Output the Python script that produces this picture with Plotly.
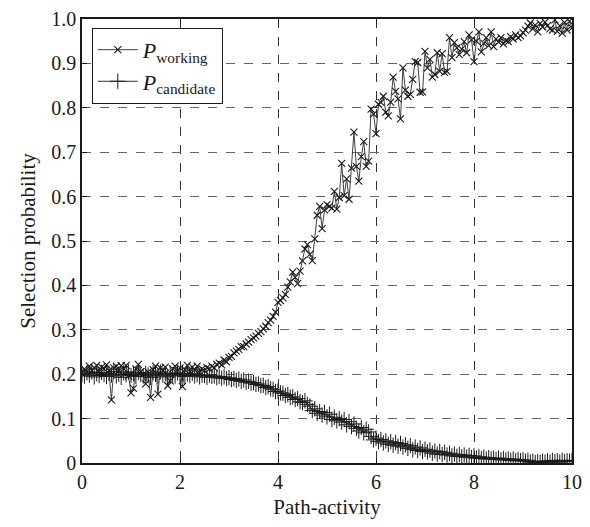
import plotly.graph_objects as go

x_vals = [
    0.00, 0.05, 0.10, 0.15, 0.20, 0.25, 0.30, 0.35, 0.40, 0.45,
    0.50, 0.55, 0.60, 0.65, 0.70, 0.75, 0.80, 0.85, 0.90, 0.95,
    1.00, 1.05, 1.10, 1.15, 1.20, 1.25, 1.30, 1.35, 1.40, 1.45,
    1.50, 1.55, 1.60, 1.65, 1.70, 1.75, 1.80, 1.85, 1.90, 1.95,
    2.00, 2.05, 2.10, 2.15, 2.20, 2.25, 2.30, 2.35, 2.40, 2.45,
    2.50, 2.55, 2.60, 2.65, 2.70, 2.75, 2.80, 2.85, 2.90, 2.95,
    3.00, 3.05, 3.10, 3.15, 3.20, 3.25, 3.30, 3.35, 3.40, 3.45,
    3.50, 3.55, 3.60, 3.65, 3.70, 3.75, 3.80, 3.85, 3.90, 3.95,
    4.00, 4.05, 4.10, 4.15, 4.20, 4.25, 4.30, 4.35, 4.40, 4.45,
    4.50, 4.55, 4.60, 4.65, 4.70, 4.75, 4.80, 4.85, 4.90, 4.95,
    5.00, 5.05, 5.10, 5.15, 5.20, 5.25, 5.30, 5.35, 5.40, 5.45,
    5.50, 5.55, 5.60, 5.65, 5.70, 5.75, 5.80, 5.85, 5.90, 5.95,
    6.00, 6.05, 6.10, 6.15, 6.20, 6.25, 6.30, 6.35, 6.40, 6.45,
    6.50, 6.55, 6.60, 6.65, 6.70, 6.75, 6.80, 6.85, 6.90, 6.95,
    7.00, 7.05, 7.10, 7.15, 7.20, 7.25, 7.30, 7.35, 7.40, 7.45,
    7.50, 7.55, 7.60, 7.65, 7.70, 7.75, 7.80, 7.85, 7.90, 7.95,
    8.00, 8.05, 8.10, 8.15, 8.20, 8.25, 8.30, 8.35, 8.40, 8.45,
    8.50, 8.55, 8.60, 8.65, 8.70, 8.75, 8.80, 8.85, 8.90, 8.95,
    9.00, 9.05, 9.10, 9.15, 9.20, 9.25, 9.30, 9.35, 9.40, 9.45,
    9.50, 9.55, 9.60, 9.65, 9.70, 9.75, 9.80, 9.85, 9.90, 9.95,
    10.00,
]

p_working = [
    0.203, 0.212, 0.205, 0.218, 0.208, 0.215, 0.220, 0.206, 0.216, 0.212,
    0.221, 0.208, 0.142, 0.214, 0.218, 0.207, 0.219, 0.212, 0.220, 0.196,
    0.158, 0.168, 0.212, 0.222, 0.206, 0.200, 0.178, 0.205, 0.148, 0.210,
    0.218, 0.155, 0.214, 0.208, 0.216, 0.174, 0.185, 0.212, 0.218, 0.207,
    0.214, 0.172, 0.210, 0.220, 0.205, 0.216, 0.210, 0.218, 0.204, 0.212,
    0.208, 0.215, 0.212, 0.218, 0.214, 0.222, 0.225, 0.221, 0.232, 0.228,
    0.238, 0.240, 0.248, 0.252, 0.256, 0.262, 0.262, 0.268, 0.272, 0.278,
    0.282, 0.286, 0.292, 0.296, 0.302, 0.308, 0.316, 0.322, 0.330, 0.340,
    0.362, 0.366, 0.372, 0.380, 0.396, 0.408, 0.430, 0.418, 0.404, 0.432,
    0.455, 0.482, 0.492, 0.470, 0.456, 0.505, 0.558, 0.578, 0.528, 0.570,
    0.582, 0.578, 0.574, 0.612, 0.572, 0.598, 0.675, 0.602, 0.640, 0.594,
    0.664, 0.745, 0.668, 0.635, 0.690, 0.724, 0.668, 0.680, 0.797, 0.786,
    0.742, 0.808, 0.812, 0.826, 0.790, 0.782, 0.813, 0.869, 0.837, 0.820,
    0.775, 0.890, 0.840, 0.826, 0.830, 0.864, 0.904, 0.902, 0.835, 0.836,
    0.927, 0.890, 0.909, 0.869, 0.875, 0.924, 0.882, 0.922, 0.880, 0.882,
    0.958, 0.913, 0.947, 0.935, 0.920, 0.932, 0.949, 0.924, 0.964, 0.953,
    0.904, 0.950, 0.971, 0.926, 0.945, 0.958, 0.940, 0.971, 0.938, 0.955,
    0.948, 0.958, 0.944, 0.952, 0.949, 0.960, 0.955, 0.964, 0.958, 0.962,
    0.969, 0.975, 0.984, 0.991, 0.978, 0.986, 0.971, 0.990, 0.982, 0.993,
    0.985, 0.978, 0.975, 0.998, 0.972, 0.985, 0.968, 0.992, 0.975, 0.995,
    0.980,
]

p_candidate = [
    0.200, 0.196, 0.203, 0.198, 0.205, 0.194, 0.201, 0.197, 0.204, 0.199,
    0.195, 0.202, 0.198, 0.206, 0.196, 0.200, 0.193, 0.203, 0.199, 0.205,
    0.197, 0.201, 0.195, 0.204, 0.199, 0.196, 0.202, 0.198, 0.193, 0.203,
    0.200, 0.196, 0.205, 0.198, 0.201, 0.194, 0.202, 0.199, 0.196, 0.203,
    0.198, 0.201, 0.195, 0.200, 0.197, 0.202, 0.196, 0.199, 0.194, 0.198,
    0.197, 0.193, 0.198, 0.195, 0.196, 0.192, 0.195, 0.191, 0.194, 0.190,
    0.192, 0.188, 0.190, 0.186, 0.189, 0.184, 0.187, 0.182, 0.184, 0.180,
    0.181, 0.177, 0.178, 0.174, 0.175, 0.170, 0.172, 0.167, 0.166, 0.161,
    0.162, 0.158, 0.157, 0.152, 0.154, 0.148, 0.149, 0.143, 0.145, 0.138,
    0.136, 0.140, 0.132, 0.128, 0.118, 0.122, 0.112, 0.116, 0.108, 0.114,
    0.104, 0.110, 0.098, 0.103, 0.095, 0.100, 0.092, 0.098, 0.086, 0.093,
    0.082, 0.088, 0.078, 0.072, 0.080, 0.068, 0.076, 0.070, 0.060, 0.052,
    0.056, 0.048, 0.053, 0.045, 0.050, 0.042, 0.048, 0.040, 0.046, 0.038,
    0.044, 0.036, 0.041, 0.033, 0.039, 0.030, 0.036, 0.028, 0.034, 0.026,
    0.031, 0.025, 0.029, 0.022, 0.027, 0.020, 0.026, 0.019, 0.024, 0.018,
    0.022, 0.016, 0.020, 0.015, 0.019, 0.014, 0.018, 0.013, 0.017, 0.012,
    0.016, 0.011, 0.014, 0.010, 0.013, 0.009, 0.012, 0.009, 0.011, 0.008,
    0.011, 0.007, 0.010, 0.007, 0.009, 0.006, 0.009, 0.005, 0.008, 0.005,
    0.007, 0.004, 0.006, 0.002, 0.004, 0.001, 0.003, 0.001, 0.004, 0.002,
    0.005, 0.002, 0.006, 0.003, 0.005, 0.002, 0.006, 0.003, 0.005, 0.004,
    0.006,
]

x_ticks = [0, 2, 4, 6, 8, 10]
x_tick_text = ["0", "2", "4", "6", "8", "10"]
y_ticks = [0, 0.1, 0.2, 0.3, 0.4, 0.5, 0.6, 0.7, 0.8, 0.9, 1.0]
y_tick_text = ["0", "0.1", "0.2", "0.3", "0.4", "0.5", "0.6", "0.7", "0.8", "0.9", "1.0"]

FONT = "Liberation Serif, Times New Roman, serif"

fig = go.Figure()
fig.add_trace(go.Scatter(
    x=x_vals, y=p_working, mode="lines+markers",
    name="<i>P</i><sub>working</sub>",
    line=dict(color="#2a2a2a", width=0.9),
    marker=dict(symbol="x-thin", size=7, color="#1a1a1a",
                line=dict(color="#1a1a1a", width=1.1)),
))
fig.add_trace(go.Scatter(
    x=x_vals, y=p_candidate, mode="lines+markers",
    name="<i>P</i><sub>candidate</sub>",
    line=dict(color="#1a1a1a", width=0.9),
    marker=dict(symbol="cross-thin", size=11, color="#1a1a1a",
                line=dict(color="#1a1a1a", width=1)),
))

fig.update_layout(
    width=590, height=527,
    margin=dict(l=82, r=8, t=14, b=64),
    paper_bgcolor="white", plot_bgcolor="white",
    font=dict(family=FONT, size=20, color="#1a1a1a"),
    showlegend=True,
    legend=dict(x=0.02, y=0.98, xanchor="left", yanchor="top",
                bgcolor="white", bordercolor="#1a1a1a", borderwidth=1,
                font=dict(family=FONT, size=22), tracegroupgap=0,
                itemwidth=40),
    xaxis=dict(
        range=[0, 10], tickvals=x_ticks, ticktext=x_tick_text,
        ticks="inside", ticklen=5, tickcolor="#1a1a1a",
        showline=True, linecolor="#1a1a1a", linewidth=1.5, mirror="ticks",
        showgrid=True, gridcolor="#333333", griddash="dash", gridwidth=1,
        zeroline=False, tickfont=dict(size=20),
        title=dict(text="Path-activity", font=dict(size=21), standoff=8),
    ),
    yaxis=dict(
        range=[0, 1], tickvals=y_ticks, ticktext=y_tick_text,
        ticks="inside", ticklen=5, tickcolor="#1a1a1a",
        showline=True, linecolor="#1a1a1a", linewidth=1.5, mirror="ticks",
        showgrid=True, gridcolor="#666666", griddash="dash", gridwidth=1,
        zeroline=False, tickfont=dict(size=20),
        title=dict(text="Selection probability", font=dict(size=21), standoff=10),
    ),
)

fig.write_html("out.html")
